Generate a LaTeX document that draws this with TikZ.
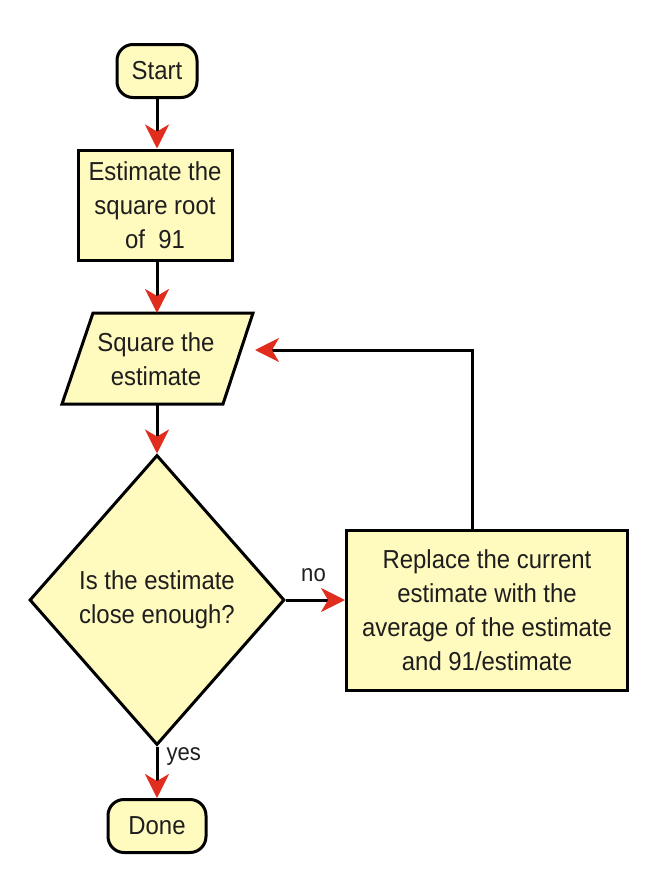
\documentclass[tikz,border=0pt]{standalone}
\usepackage{fontspec}
\setmainfont[FakeStretch=0.92]{Liberation Sans}
\usetikzlibrary{arrows.meta,shapes.geometric}
\definecolor{boxfill}{RGB}{255,250,190}
\definecolor{arrred}{RGB}{225,45,30}
\definecolor{txt}{RGB}{30,30,30}
\begin{document}
\begin{tikzpicture}[x=1pt,y=-1pt,
  line width=3pt,
  every node/.style={font=\fontsize{26}{34}\selectfont, text=txt, align=center},
  box/.style={draw=black, fill=boxfill, line join=miter},
  term/.style={box, rounded corners=16pt, minimum width=80pt, minimum height=53pt, inner sep=0pt},
  arr/.style={draw=black, -{Stealth[color=arrred, length=24pt, width=24pt, inset=7pt]}},
  lab/.style={font=\fontsize{24}{28}\selectfont, text=txt, inner sep=0pt}]
\useasboundingbox (0,0) rectangle (652,894);
\node[term] (start) at (157,71) {Start};
\node[box, minimum width=154pt, minimum height=110pt, inner sep=0pt] (est) at (155,205) {Estimate the\\square root\\of~~91};
\draw[box] (93,313) -- (253,313) -- (223,404) -- (62,404) -- cycle;
\coordinate (sqtop) at (157,313);
\coordinate (sqbot) at (157,404);
\coordinate (sqright) at (255,350);
\node (sq) at (156,359) {Square the\\estimate};
\node[box, shape=diamond, minimum width=255pt, minimum height=290pt, inner sep=0pt] (dec) at (157,600) {Is the estimate\\close enough?};
\node[box, minimum width=281pt, minimum height=160pt, inner sep=0pt] (rep) at (487,610) {Replace the current\\estimate with the\\average of the estimate\\and 91/estimate};
\node[term, minimum width=98pt] (done) at (157,826) {Done};
\draw[arr] (start) -- (start |- est.north);
\draw[arr] (est.south -| sqtop) -- (sqtop);
\draw[arr] (sqbot) -- (dec);
\draw[arr] (dec.east) -- node[lab, above, yshift=17pt, xshift=-2pt] {no} (dec.east -| rep.west);
\draw[arr] (dec) -- node[lab, right, pos=0.2, xshift=8pt] {yes} (done);
\draw[arr] ([xshift=-15pt]rep.north) |- (sqright);
\end{tikzpicture}
\end{document}
